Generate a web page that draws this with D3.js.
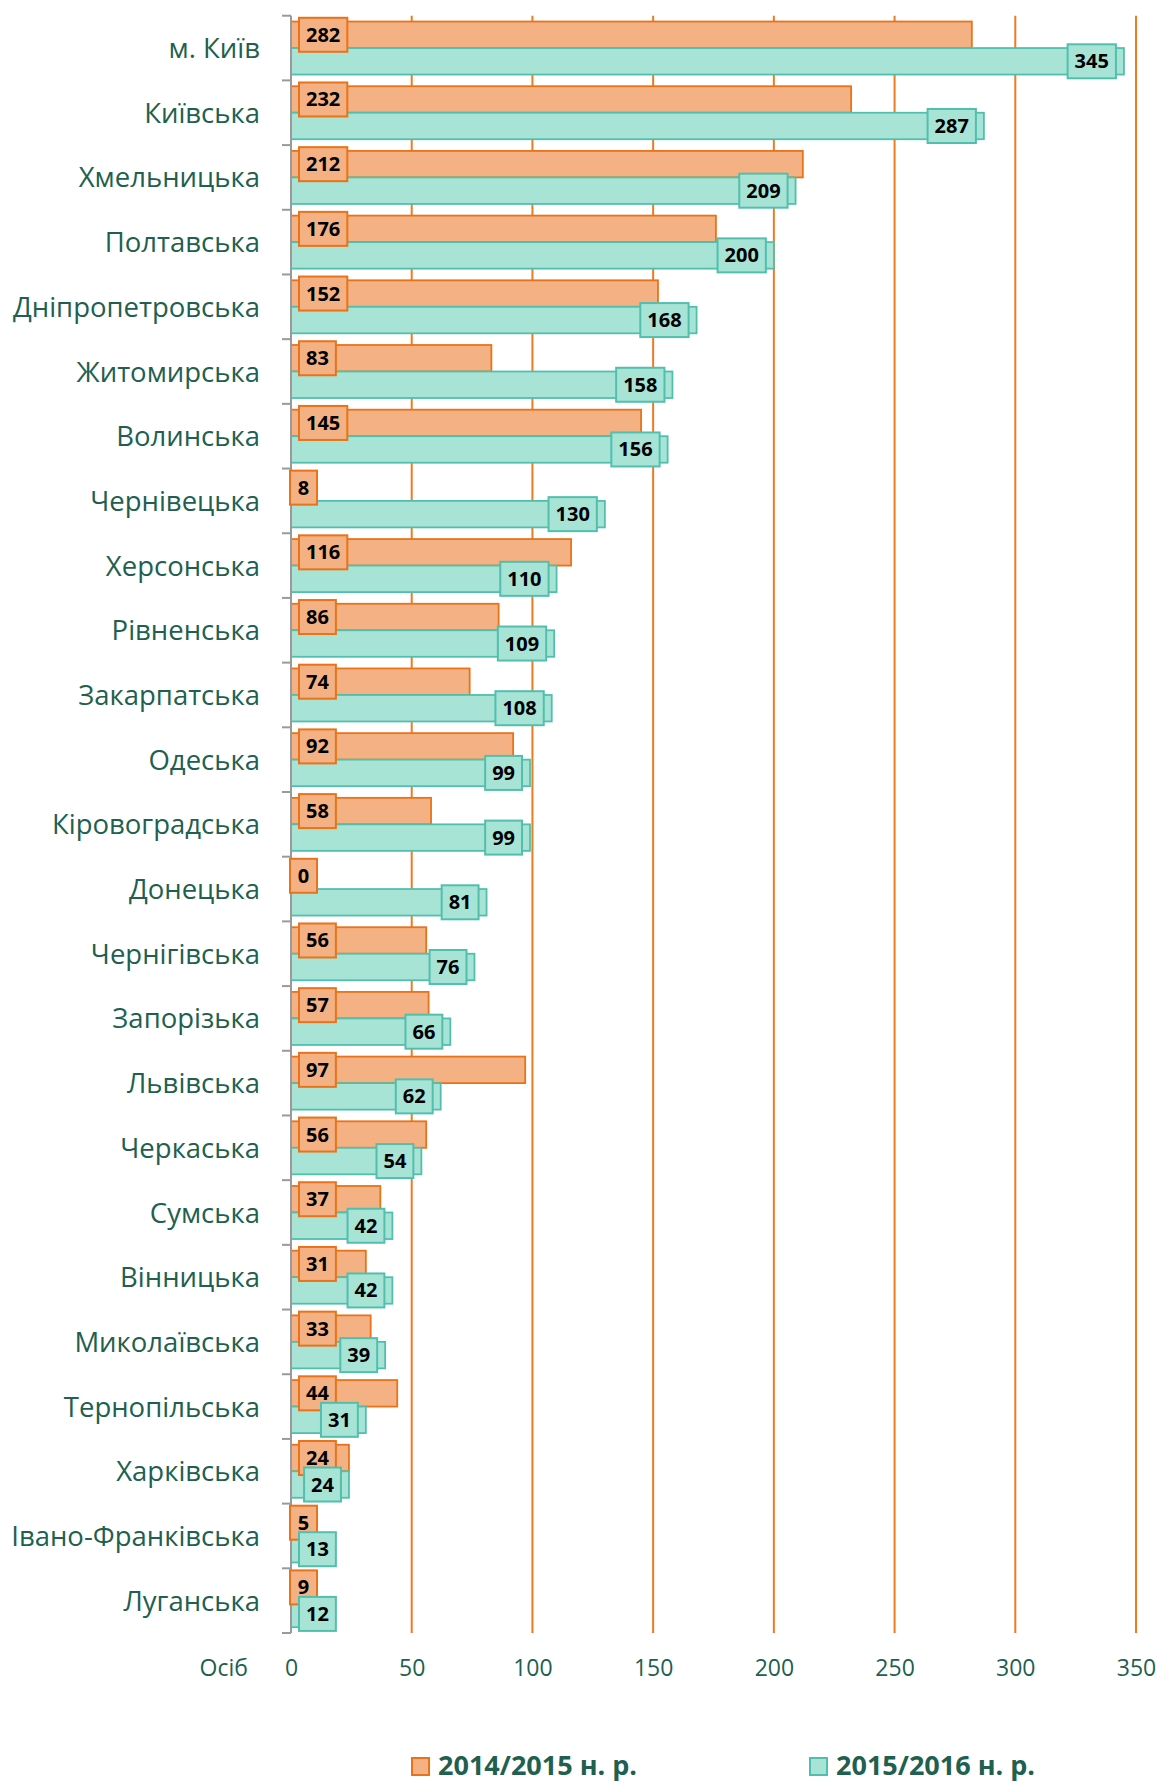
<!DOCTYPE html>
<html>
<head>
<meta charset="utf-8">
<script src="https://cdn.jsdelivr.net/npm/d3@7/dist/d3.min.js"></script>
<style>
  html, body { margin: 0; padding: 0; background: #fff; }
  svg { display: block; }
</style>
</head>
<body>
<svg id="chart" width="1160" height="1782"></svg>
<script>
// Regions, in display order
const regions = [
  "м. Київ", "Київська", "Хмельницька", "Полтавська", "Дніпропетровська",
  "Житомирська", "Волинська", "Чернівецька", "Херсонська", "Рівненська",
  "Закарпатська", "Одеська", "Кіровоградська", "Донецька", "Чернігівська",
  "Запорізька", "Львівська", "Черкаська", "Сумська", "Вінницька",
  "Миколаївська", "Тернопільська", "Харківська", "Івано-Франківська", "Луганська"
];

// Number of persons per school year
const values2014 = [282, 232, 212, 176, 152, 83, 145, 8, 116, 86, 74, 92, 58, 0, 56, 57, 97, 56, 37, 31, 33, 44, 24, 5, 9];
const values2015 = [345, 287, 209, 200, 168, 158, 156, 130, 110, 109, 108, 99, 99, 81, 76, 66, 62, 54, 42, 42, 39, 31, 24, 13, 12];

const seriesNames = ["2014/2015 н. р.", "2015/2016 н. р."];
const xTicks = [0, 50, 100, 150, 200, 250, 300, 350];
const xUnit = "Осіб";

const textColor = "#215f4f";
const fills = ["#f4b183", "#a7e4d6"];
const strokes = ["#e8731a", "#52bfae"];
const gridColor = "#ec7b22";
const font = "'Open Sans', 'Noto Sans', sans-serif";

const svg = d3.select("#chart");

const x = d3.scaleLinear().domain([0, 350]).range([291, 1136]);
const y = d3.scaleBand().domain(regions).range([15.7, 1633]).padding(0);
const ySub = d3.scaleBand().domain([0, 1]).range([0, y.bandwidth()])
  .paddingInner(0).paddingOuter(0.22);

const rows = regions.map((r, i) => ({ region: r, vals: [values2014[i], values2015[i]] }));

// Vertical gridlines
svg.append("g")
  .selectAll("line")
  .data(xTicks.filter(t => t > 0))
  .join("line")
  .attr("x1", d => x(d)).attr("x2", d => x(d))
  .attr("y1", y.range()[0]).attr("y2", y.range()[1])
  .attr("stroke", gridColor)
  .attr("stroke-width", 2);

// Bars
const bars = [];
rows.forEach(row => row.vals.forEach((v, s) => bars.push({ region: row.region, s, v })));

svg.append("g")
  .selectAll("rect")
  .data(bars)
  .join("rect")
  .attr("x", x(0))
  .attr("y", d => y(d.region) + ySub(d.s))
  .attr("width", d => x(d.v) - x(0))
  .attr("height", ySub.bandwidth())
  .attr("fill", d => fills[d.s])
  .attr("stroke", d => strokes[d.s])
  .attr("stroke-width", 1.8);

// Category axis: line at zero with outward ticks between groups
const axisG = svg.append("g");
axisG.append("line")
  .attr("x1", x(0)).attr("x2", x(0))
  .attr("y1", y.range()[0]).attr("y2", y.range()[1])
  .attr("stroke", "#9a9a9a").attr("stroke-width", 2);
const boundaries = regions.map(r => y(r)).concat([y.range()[1]]);
axisG.selectAll("line.tick")
  .data(boundaries)
  .join("line")
  .attr("class", "tick")
  .attr("x1", x(0) - 9).attr("x2", x(0))
  .attr("y1", d => d).attr("y2", d => d)
  .attr("stroke", "#9a9a9a").attr("stroke-width", 2);

// Category labels
svg.append("g")
  .selectAll("text")
  .data(regions)
  .join("text")
  .attr("x", 260)
  .attr("y", d => y(d) + y.bandwidth() / 2 + 10)
  .attr("text-anchor", "end")
  .attr("font-family", font)
  .attr("font-size", 27.5)
  .attr("fill", textColor)
  .text(d => d);

// Value axis labels
const xAxis = d3.axisBottom(x).tickValues(xTicks).tickSize(0).tickPadding(0).tickFormat(d3.format("d"));
const xg = svg.append("g").attr("transform", "translate(0,1676)").call(xAxis);
xg.select(".domain").remove();
xg.selectAll("text")
  .attr("dy", 0)
  .attr("font-family", font)
  .attr("font-size", 23)
  .attr("fill", textColor);
svg.append("text")
  .attr("x", 248).attr("y", 1676)
  .attr("text-anchor", "end")
  .attr("font-family", font)
  .attr("font-size", 23)
  .attr("fill", textColor)
  .text(xUnit);

// Data labels in boxes
const labelG = svg.append("g");
[0, 1].forEach(s => {
  rows.forEach(row => {
    const v = row.vals[s];
    const g = labelG.append("g");
    const t = g.append("text")
      .attr("font-family", font)
      .attr("font-size", 20)
      .attr("font-weight", "bold")
      .attr("fill", "#000")
      .attr("text-anchor", "middle")
      .text(v);
    const tw = t.node().getComputedTextLength();
    const w = Math.max(tw + 14, 27), h = 34;
    const x0 = x(0), x1 = x(v);
    const barW = x1 - x0;
    let left;
    if (s === 0) {
      left = barW < w ? x0 - 1 : x0 + 8;
    } else {
      left = Math.max(x1 - 8 - w, x0 + 8);
    }
    const cy = y(row.region) + ySub(s) + ySub.bandwidth() / 2;
    g.insert("rect", "text")
      .attr("x", left).attr("y", cy - h / 2)
      .attr("width", w).attr("height", h)
      .attr("fill", fills[s])
      .attr("stroke", strokes[s])
      .attr("stroke-width", 2);
    t.attr("x", left + w / 2).attr("y", cy + 7);
  });
});

// Legend
const legendItems = [
  { name: seriesNames[0], sx: 412, tx: 438 },
  { name: seriesNames[1], sx: 810, tx: 836 }
];
const lg = svg.append("g");
legendItems.forEach((d, i) => {
  lg.append("rect")
    .attr("x", d.sx).attr("y", 1758)
    .attr("width", 17).attr("height", 17)
    .attr("fill", fills[i]).attr("stroke", strokes[i]).attr("stroke-width", 2);
  lg.append("text")
    .attr("x", d.tx).attr("y", 1775)
    .attr("font-family", font)
    .attr("font-size", 27)
    .attr("font-weight", "bold")
    .attr("fill", textColor)
    .text(d.name);
});
</script>
</body>
</html>
